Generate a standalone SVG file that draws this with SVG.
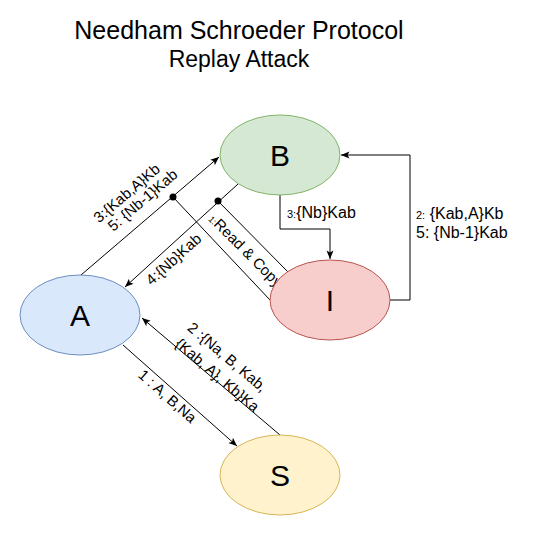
<svg xmlns="http://www.w3.org/2000/svg" width="534" height="543" viewBox="0 0 534 543">
<defs>
<style>
.t{font-family:"Liberation Sans",Arial,sans-serif;fill:#000}
.lbl{font-family:"Liberation Sans",Arial,sans-serif;font-size:15px;fill:#000}
.hl{font-size:16px}
.node{font-family:"Liberation Sans",Arial,sans-serif;font-size:30px;fill:#000;text-anchor:middle}
.ln{fill:none;stroke:#000;stroke-width:1}
.sm{font-size:11px}
</style>
<marker id="arr" markerWidth="10" markerHeight="8" refX="9" refY="4" orient="auto" markerUnits="userSpaceOnUse">
<path d="M0.5,0.5 L9,4 L0.5,7.5 L2.5,4 Z" fill="#000"/>
</marker>
</defs>
<rect width="534" height="543" fill="#fff"/>
<text class="t" x="239" y="39" font-size="25" text-anchor="middle">Needham Schroeder Protocol</text>
<text class="t" x="239" y="67" font-size="23" text-anchor="middle">Replay Attack</text>

<g id="connectors">
<line class="ln" x1="81" y1="275" x2="219" y2="157" marker-end="url(#arr)"/>
<line class="ln" x1="238" y1="184" x2="125" y2="287" marker-end="url(#arr)"/>
<line class="ln" x1="270" y1="300" x2="173" y2="197"/>
<circle cx="173" cy="197" r="3.5" fill="#000"/>
<line class="ln" x1="288" y1="272" x2="218" y2="201"/>
<circle cx="218" cy="201" r="3.5" fill="#000"/>
<line class="ln" x1="123" y1="345" x2="237" y2="446" marker-end="url(#arr)"/>
<line class="ln" x1="280" y1="435" x2="142" y2="318" marker-end="url(#arr)"/>
<polyline class="ln" points="280,195 280,229 330,229 330,259" marker-end="url(#arr)"/>
<polyline class="ln" points="390,300 410,300 410,155 341,155" marker-end="url(#arr)"/>

<text class="lbl" transform="translate(130,197) rotate(-40.5)" text-anchor="middle">3:{Kab,A}Kb</text>
<text class="lbl" transform="translate(146,204) rotate(-40.5)" text-anchor="middle">5: {Nb-1}Kab</text>
<text class="lbl" transform="translate(177,263) rotate(-42)" text-anchor="middle">4:{Nb}Kab</text>
<text class="lbl" transform="translate(242,254) rotate(45)" text-anchor="middle" font-size="11.5"><tspan font-size="9">1:</tspan>Read &amp; Copy</text>
<text class="lbl" transform="translate(224,361) rotate(40.3)" text-anchor="middle">2 :{Na, B, Kab,</text>
<text class="lbl" transform="translate(214,379) rotate(40.3)" text-anchor="middle">{Kab, A}, Kb}Ka</text>
<text class="lbl" transform="translate(164,400) rotate(41.5)" text-anchor="middle">1 : A, B,Na</text>
<text class="lbl hl" x="287" y="218"><tspan class="sm">3:</tspan>{Nb}Kab</text>
<text class="lbl hl" x="416" y="219"><tspan class="sm">2:</tspan> {Kab,A}Kb</text>
<text class="lbl hl" x="416" y="238">5: {Nb-1}Kab</text>
</g>

<g id="B">
<ellipse cx="280" cy="155" rx="60" ry="40" fill="#d5e8d4" stroke="#82b366"/>
<text class="node" x="280" y="166">B</text>
</g>
<g id="A">
<ellipse cx="80" cy="315" rx="60" ry="40" fill="#dae8fc" stroke="#6c8ebf"/>
<text class="node" x="80" y="326">A</text>
</g>
<g id="I">
<ellipse cx="330" cy="300" rx="60" ry="40" fill="#f8cecc" stroke="#b85450"/>
<text class="node" x="330" y="311">I</text>
</g>
<g id="S">
<ellipse cx="280" cy="475" rx="60" ry="40" fill="#fff2cc" stroke="#d6b656"/>
<text class="node" x="280" y="486">S</text>
</g>
</svg>
